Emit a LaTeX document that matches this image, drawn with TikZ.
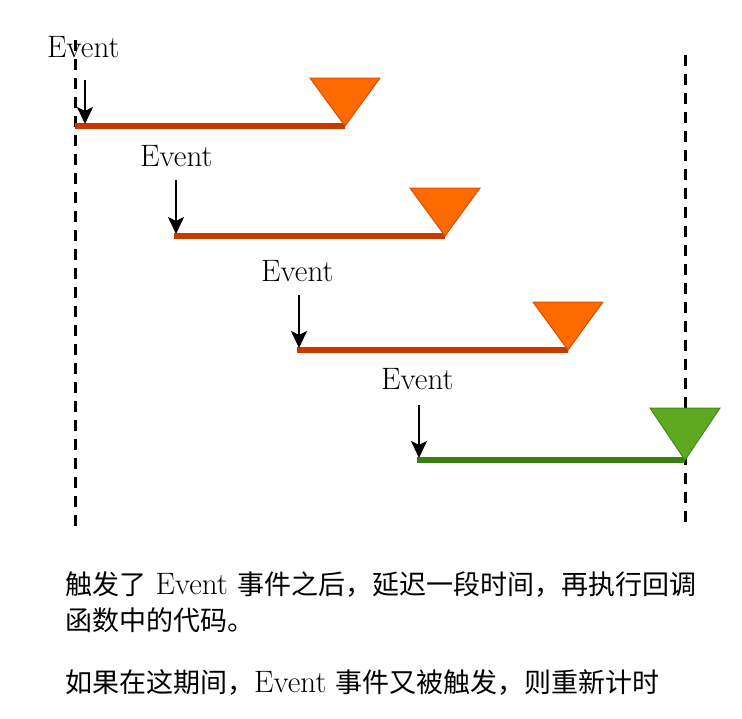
\documentclass[tikz,border=0pt]{standalone}
\usepackage{fontspec}
\newfontfamily\cjk{Noto Sans CJK SC}
\usetikzlibrary{positioning,arrows.meta}
\definecolor{barred}{HTML}{C63A00}
\definecolor{triorange}{HTML}{FF6A00}
\definecolor{triedge}{HTML}{D85000}
\definecolor{bargreen}{HTML}{3A7D12}
\definecolor{trigreen}{HTML}{5FA920}
\definecolor{triedgeg}{HTML}{3F8A16}

\begin{document}
\begin{tikzpicture}[x=1pt,y=-1pt,
    lbl/.style={font=\fontsize{31}{31}\selectfont, inner sep=0pt, anchor=base west},
    cjktext/.style={font=\cjk\fontsize{27}{27}\selectfont},
    timer/.style={line width=6pt},
    guide/.style={line width=3pt, dash pattern=on 11pt off 8pt},
    trig/.style={-{Stealth[length=17pt,width=16pt,inset=4pt]}, line width=1.6pt}]
    \useasboundingbox (0,0) rectangle (742,718);

    % dashed guide lines
    \coordinate (g1) at (75,40);
    \coordinate (g2) at (75,530);
    \coordinate (h1) at (685,55);
    \coordinate (h2) at (685,522);
    \draw[guide] (g1) -- (g2);
    \draw[guide] (h1) -- (h2);

    % first event
    \node[lbl] (ev1) at (47,57) {Event};
    \coordinate (a1) at (85,80);
    \coordinate (t1) at (85,124);
    \coordinate (s1) at (75,126);
    \coordinate (e1) at (345,126);
    \draw[timer, barred] (s1) -- (e1);
    \draw[fill=triorange, draw=triedge, line width=1pt] (310,78) -- (380,78) -- (e1) -- cycle;
    \draw[trig] (a1) -- (t1);

    % second event
    \node[lbl] (ev2) at (140,166) {Event};
    \coordinate (a2) at (176,180);
    \coordinate (t2) at (176,234);
    \coordinate (s2) at (174,236);
    \coordinate (e2) at (445,236);
    \draw[timer, barred] (s2) -- (e2);
    \draw[fill=triorange, draw=triedge, line width=1pt] (410,188) -- (480,188) -- (e2) -- cycle;
    \draw[trig] (a2) -- (t2);

    % third event
    \node[lbl] (ev3) at (261,281) {Event};
    \coordinate (a3) at (299,295);
    \coordinate (t3) at (299,348);
    \coordinate (s3) at (297,350);
    \coordinate (e3) at (568,350);
    \draw[timer, barred] (s3) -- (e3);
    \draw[fill=triorange, draw=triedge, line width=1pt] (533,302) -- (603,302) -- (e3) -- cycle;
    \draw[trig] (a3) -- (t3);

    % last event, callback runs
    \node[lbl] (ev4) at (381,389) {Event};
    \coordinate (a4) at (419,405);
    \coordinate (t4) at (419,458);
    \coordinate (s4) at (417,460);
    \coordinate (e4) at (685,460);
    \draw[timer, bargreen] (s4) -- (e4);
    \draw[fill=trigreen, draw=triedgeg, line width=1pt] (650,408) -- (720,408) -- (e4) -- cycle;
    \draw[trig] (a4) -- (t4);

    % notes
    \node[lbl] (note1) at (65,594) {{\cjk\fontsize{27}{27}\selectfont 触发了} Event {\cjk\fontsize{27}{27}\selectfont 事件之后，延迟一段时间，再执行回调}};
    \node[lbl, cjktext] (note2) at (65,630) {函数中的代码。};
    \node[lbl] (note3) at (65,692) {{\cjk\fontsize{27}{27}\selectfont 如果在这期间，}Event {\cjk\fontsize{27}{27}\selectfont 事件又被触发，则重新计时}};
\end{tikzpicture}
\end{document}
